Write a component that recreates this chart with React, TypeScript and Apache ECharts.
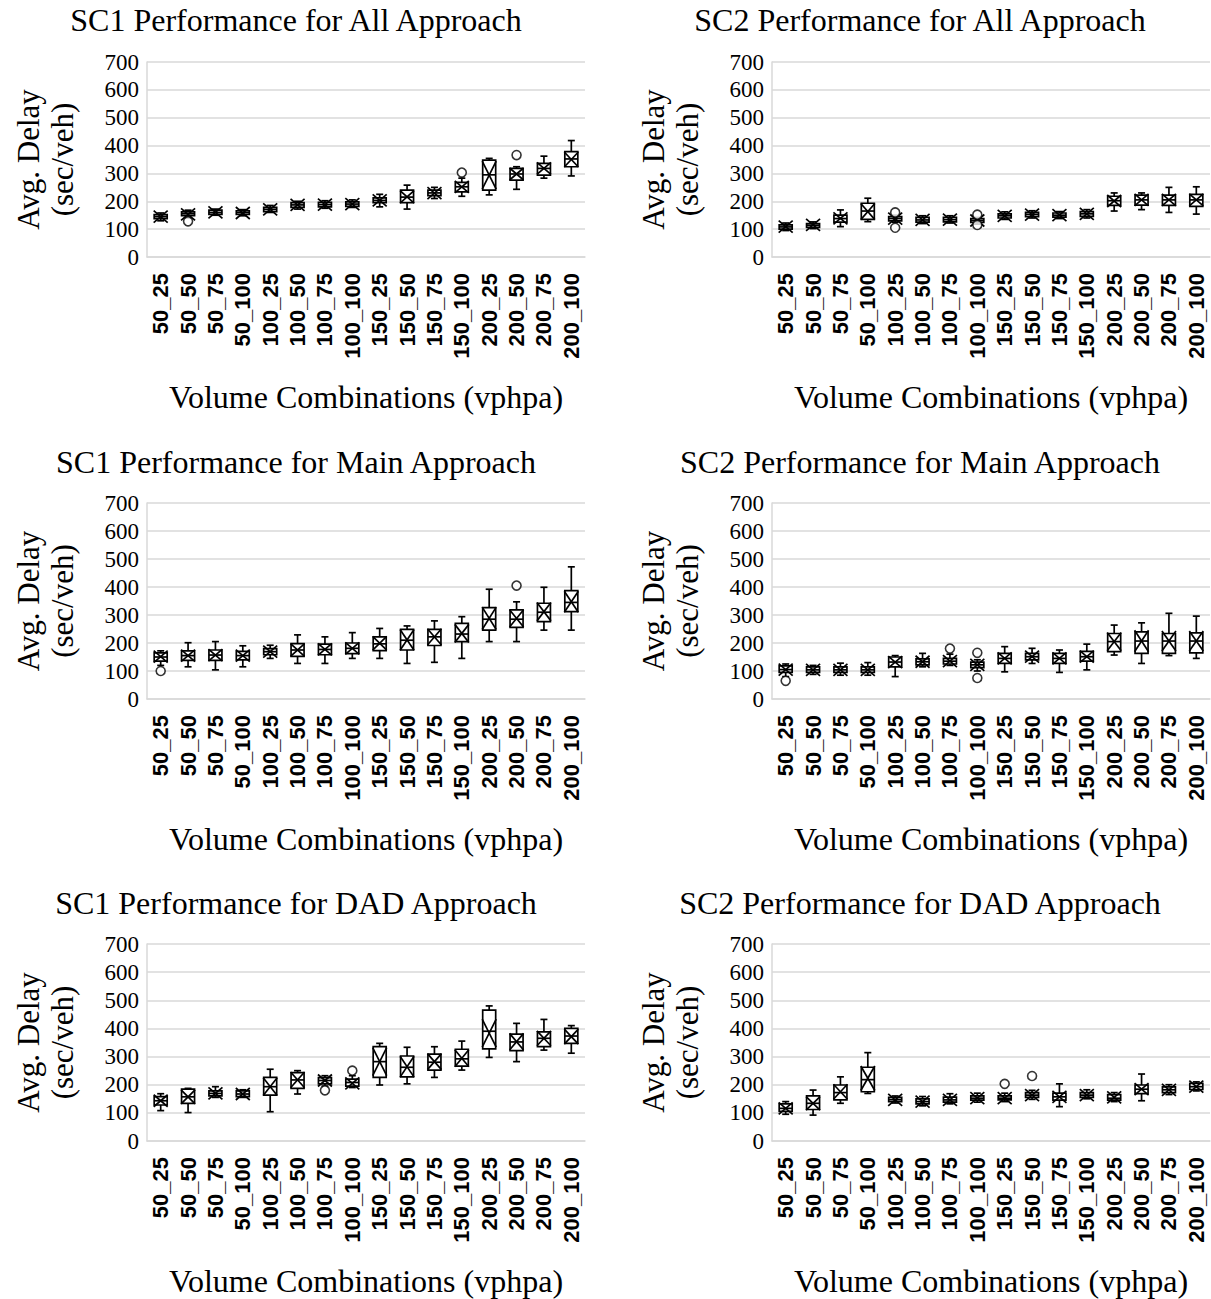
import React, { useEffect, useRef } from "react";
import * as echarts from "echarts";

const categories = [
  "50_25", "50_50", "50_75", "50_100",
  "100_25", "100_50", "100_75", "100_100",
  "150_25", "150_50", "150_75", "150_100",
  "200_25", "200_50", "200_75", "200_100",
];

const panelTitles = [
  "SC1 Performance for All Approach",
  "SC2 Performance for All Approach",
  "SC1 Performance for Main Approach",
  "SC2 Performance for Main Approach",
  "SC1 Performance for DAD Approach",
  "SC2 Performance for DAD Approach",
];

const yTicks = [0, 100, 200, 300, 400, 500, 600, 700];

// [min, Q1, median, Q3, max]
const sc1AllBox = [
  [130, 138, 145, 152, 158], [140, 148, 155, 162, 168], [150, 153, 160, 168, 172], [148, 153, 160, 166, 170],
  [160, 163, 171, 178, 185], [172, 178, 187, 195, 200], [175, 180, 188, 196, 202], [178, 182, 190, 198, 205],
  [180, 195, 203, 212, 225], [172, 195, 215, 240, 258], [210, 220, 230, 240, 250], [218, 234, 252, 268, 283],
  [223, 240, 295, 348, 354], [243, 276, 298, 318, 324], [283, 294, 318, 336, 362], [291, 324, 352, 378, 418],
];
const sc1AllMean = [145, 153, 160, 158, 171, 187, 188, 190, 203, 216, 229, 252, 294, 298, 318, 350];
const sc1AllOut = [[1, 128], [11, 303], [13, 366]];

const sc2AllBox = [
  [95, 100, 108, 115, 122], [102, 106, 114, 120, 126], [109, 125, 138, 150, 169], [127, 135, 165, 193, 211],
  [125, 130, 138, 145, 150], [120, 125, 133, 142, 148], [122, 126, 134, 142, 148], [118, 124, 131, 138, 142],
  [135, 140, 148, 155, 162], [140, 145, 153, 160, 166], [138, 143, 150, 158, 163], [140, 146, 155, 163, 170],
  [165, 185, 202, 218, 230], [170, 186, 205, 222, 230], [160, 185, 205, 222, 250], [154, 182, 205, 225, 252],
];
const sc2AllMean = [109, 115, 139, 163, 138, 133, 134, 131, 148, 152, 150, 155, 201, 205, 205, 205];
const sc2AllOut = [[4, 160], [4, 105], [7, 152], [7, 115]];

const sc1MainBox = [
  [120, 135, 150, 165, 172], [115, 138, 155, 172, 201], [104, 138, 157, 175, 205], [115, 140, 155, 170, 190],
  [145, 158, 169, 180, 192], [127, 152, 175, 198, 229], [127, 158, 177, 196, 222], [145, 162, 181, 200, 237],
  [145, 173, 197, 222, 252], [127, 175, 210, 249, 261], [131, 191, 222, 249, 279], [145, 205, 232, 270, 294],
  [205, 246, 285, 326, 392], [205, 256, 285, 318, 347], [246, 276, 310, 342, 399], [246, 312, 345, 387, 472],
];
const sc1MainMean = [151, 155, 157, 155, 169, 175, 177, 181, 199, 211, 222, 234, 288, 288, 312, 347];
const sc1MainOut = [[0, 100], [13, 405]];

const sc2MainBox = [
  [80, 95, 105, 118, 125], [88, 95, 104, 115, 120], [85, 95, 104, 115, 128], [85, 95, 104, 115, 130],
  [80, 115, 132, 150, 155], [115, 122, 133, 143, 163], [120, 125, 135, 145, 160], [100, 112, 122, 132, 140],
  [97, 127, 145, 163, 187], [127, 140, 151, 163, 181], [95, 127, 145, 163, 175], [104, 135, 151, 170, 196],
  [157, 169, 205, 234, 264], [127, 163, 207, 240, 272], [155, 163, 207, 234, 306], [145, 165, 207, 236, 296],
];
const sc2MainMean = [105, 104, 104, 104, 132, 133, 135, 122, 145, 151, 145, 151, 205, 207, 207, 207];
const sc2MainOut = [[0, 65], [6, 180], [7, 165], [7, 75]];

const sc1DadBox = [
  [108, 128, 143, 158, 168], [101, 134, 157, 184, 187], [155, 160, 169, 178, 193], [155, 158, 167, 178, 182],
  [104, 163, 193, 226, 255], [167, 187, 217, 243, 250], [195, 203, 215, 225, 232], [190, 195, 208, 220, 232],
  [199, 226, 282, 335, 347], [203, 228, 262, 302, 333], [226, 252, 280, 309, 335], [252, 266, 292, 326, 355],
  [297, 327, 390, 465, 480], [282, 321, 352, 380, 418], [323, 335, 365, 388, 432], [312, 347, 373, 400, 410],
];
const sc1DadMean = [143, 157, 169, 167, 193, 217, 215, 205, 282, 264, 282, 294, 383, 353, 365, 371];
const sc1DadOut = [[6, 180], [7, 250]];

const sc2DadBox = [
  [95, 105, 116, 132, 140], [92, 112, 134, 160, 181], [134, 146, 172, 199, 228], [169, 175, 218, 262, 314],
  [135, 140, 147, 155, 160], [125, 132, 140, 150, 158], [132, 138, 146, 156, 168], [138, 145, 152, 160, 170],
  [140, 146, 152, 160, 170], [148, 155, 163, 172, 180], [122, 145, 157, 170, 203], [150, 155, 163, 172, 182],
  [140, 145, 152, 165, 172], [143, 168, 184, 199, 238], [165, 172, 182, 192, 200], [178, 183, 193, 205, 210],
];
const sc2DadMean = [116, 134, 175, 223, 146, 140, 146, 152, 152, 163, 157, 163, 155, 184, 182, 193];
const sc2DadOut = [[8, 203], [9, 231]];

const panelBoxes = [sc1AllBox, sc2AllBox, sc1MainBox, sc2MainBox, sc1DadBox, sc2DadBox];
const panelMeans = [sc1AllMean, sc2AllMean, sc1MainMean, sc2MainMean, sc1DadMean, sc2DadMean];
const panelOutliers = [sc1AllOut, sc2AllOut, sc1MainOut, sc2MainOut, sc1DadOut, sc2DadOut];

const SERIF = '"Liberation Serif", "Times New Roman", serif';
const NARROW = '"Liberation Sans Narrow", "Arial Narrow", "Liberation Sans", sans-serif';

const colLeft = [147, 772];
const colTitleX = [296, 920];
const rowTop = [62, 503, 944];
const rowHeight = [195, 196, 197];
const rowTitleY = [20, 462, 903];
const gridW = 438;

function renderBox(params: any, api: any) {
  const x = api.value(0);
  const mn = api.coord([x, api.value(1)]);
  const q1 = api.coord([x, api.value(2)]);
  const md = api.coord([x, api.value(3)]);
  const q3 = api.coord([x, api.value(4)]);
  const mx = api.coord([x, api.value(5)]);
  const mean = api.coord([x, api.value(6)]);
  const cx = mn[0];
  const hw = 6.5;
  const cap = 3.5;
  const stroke = { stroke: "#000", lineWidth: 1.7, fill: null };
  const boxH = Math.abs(q1[1] - q3[1]);
  const xh = Math.max(6, Math.min(boxH / 2, 14));
  const xw = 7;
  return {
    type: "group",
    children: [
      { type: "line", shape: { x1: cx, y1: mn[1], x2: cx, y2: q1[1] }, style: stroke },
      { type: "line", shape: { x1: cx, y1: q3[1], x2: cx, y2: mx[1] }, style: stroke },
      { type: "line", shape: { x1: cx - cap, y1: mn[1], x2: cx + cap, y2: mn[1] }, style: stroke },
      { type: "line", shape: { x1: cx - cap, y1: mx[1], x2: cx + cap, y2: mx[1] }, style: stroke },
      {
        type: "rect",
        shape: { x: cx - hw, y: q3[1], width: hw * 2, height: q1[1] - q3[1] },
        style: { stroke: "#000", lineWidth: 1.7, fill: "#fff" },
      },
      { type: "line", shape: { x1: cx - hw, y1: md[1], x2: cx + hw, y2: md[1] }, style: stroke },
      { type: "line", shape: { x1: cx - xw, y1: mean[1] - xh, x2: cx + xw, y2: mean[1] + xh }, style: stroke },
      { type: "line", shape: { x1: cx - xw, y1: mean[1] + xh, x2: cx + xw, y2: mean[1] - xh }, style: stroke },
    ],
  };
}

function buildOption() {
  const grid: any[] = [];
  const xAxis: any[] = [];
  const yAxis: any[] = [];
  const series: any[] = [];
  const graphic: any[] = [];
  for (let p = 0; p < 6; p++) {
    const col = p % 2;
    const row = Math.floor(p / 2);
    grid.push({ left: colLeft[col], top: rowTop[row], width: gridW, height: rowHeight[row], containLabel: false });
    xAxis.push({
      type: "category",
      gridIndex: p,
      data: categories,
      boundaryGap: true,
      axisLine: { show: true, lineStyle: { color: "#d9d9d9", width: 1.5 } },
      axisTick: { show: false },
      axisLabel: {
        interval: 0,
        rotate: 90,
        margin: 16,
        color: "#000",
        fontFamily: NARROW,
        fontWeight: "bold",
        fontSize: 22,
      },
      name: "Volume Combinations (vphpa)",
      nameLocation: "middle",
      nameGap: 124,
      nameTextStyle: { fontFamily: SERIF, fontSize: 32, color: "#000" },
    });
    yAxis.push({
      type: "value",
      gridIndex: p,
      min: yTicks[0],
      max: yTicks[yTicks.length - 1],
      interval: 100,
      axisLine: { show: true, lineStyle: { color: "#d9d9d9", width: 1.5 } },
      axisTick: { show: false },
      splitLine: { show: true, lineStyle: { color: "#d9d9d9", width: 1.5 } },
      axisLabel: { margin: 8, color: "#000", fontFamily: SERIF, fontSize: 23 },
      name: "Avg. Delay\n(sec/veh)",
      nameLocation: "middle",
      nameGap: 68,
      nameTextStyle: { fontFamily: SERIF, fontSize: 31, lineHeight: 34, color: "#000" },
    });
    const boxes = panelBoxes[p];
    const means = panelMeans[p];
    series.push({
      type: "custom",
      xAxisIndex: p,
      yAxisIndex: p,
      renderItem: renderBox,
      encode: { x: 0, y: [1, 2, 3, 4, 5, 6] },
      data: boxes.map((b, i) => [i, b[0], b[1], b[2], b[3], b[4], means[i]]),
      z: 3,
    });
    series.push({
      type: "scatter",
      xAxisIndex: p,
      yAxisIndex: p,
      symbol: "circle",
      symbolSize: 9,
      itemStyle: { color: "#fff", borderColor: "#000", borderWidth: 1.6 },
      data: panelOutliers[p],
      z: 4,
    });
    graphic.push({
      type: "text",
      x: colTitleX[col],
      y: rowTitleY[row],
      style: {
        text: panelTitles[p],
        font: `32px ${SERIF}`,
        fill: "#000",
        align: "center",
        verticalAlign: "middle",
        textAlign: "center",
        textVerticalAlign: "middle",
      },
    });
  }
  return {
    animation: false,
    backgroundColor: "#fff",
    grid,
    xAxis,
    yAxis,
    series,
    graphic,
  };
}

export default function App() {
  const ref = useRef<HTMLDivElement>(null);
  useEffect(() => {
    if (!ref.current) return;
    const chart = echarts.init(ref.current, null, { renderer: "svg" });
    chart.setOption(buildOption() as any);
    return () => chart.dispose();
  }, []);
  return (
    <div
      ref={ref}
      style={{ position: "absolute", left: 0, top: 0, width: 1211, height: 1299, background: "#fff" }}
    />
  );
}
